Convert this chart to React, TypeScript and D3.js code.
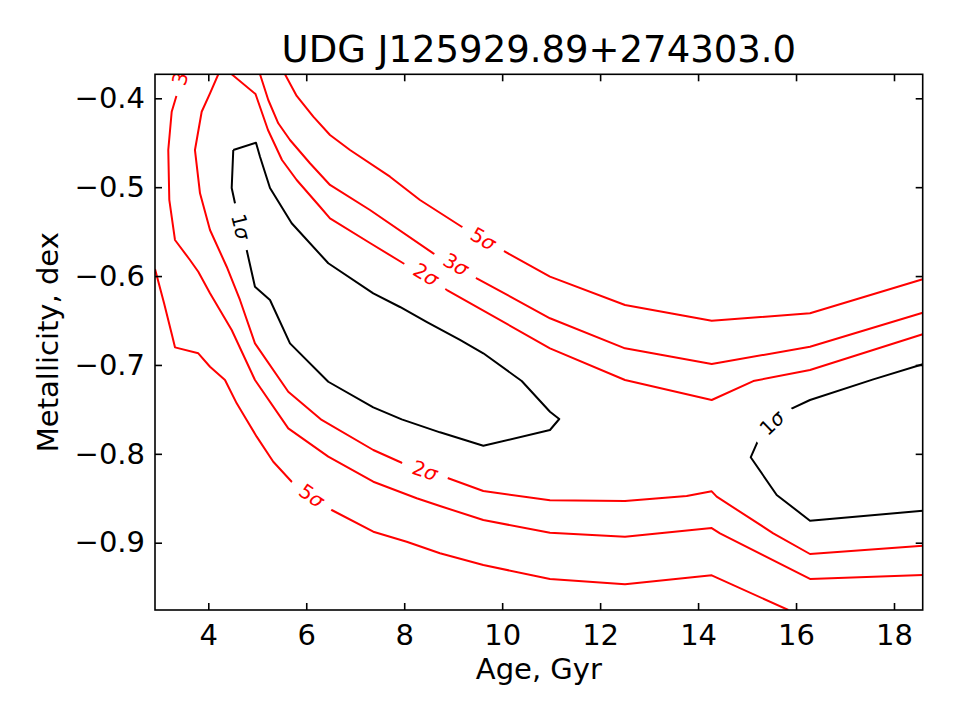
import React, { Component } from 'react';
import * as d3 from 'd3';

type Pt = [number, number];

// axis ranges (age in Gyr, metallicity in dex)
const ageDomain: Pt = [2.912, 18.586];
const metDomain: Pt = [-0.9757, -0.373];

const ageTicks = [4, 6, 8, 10, 12, 14, 16, 18];
const metTicks = [-0.9, -0.8, -0.7, -0.6, -0.5, -0.4];

// contour paths, [age, metallicity]
const sigma1Left: Pt[] = [
    [4.510, -0.4582], [4.974, -0.4500], [5.056, -0.4657], [5.260, -0.5009], [5.703, -0.5406],
    [6.450, -0.5856], [7.369, -0.6194], [7.914, -0.6348], [8.465, -0.6517], [9.139, -0.6719],
    [9.615, -0.6869], [10.399, -0.7181], [10.976, -0.7526], [11.166, -0.7608], [10.976, -0.7732],
    [9.615, -0.7909], [8.730, -0.7758], [7.949, -0.7612], [7.369, -0.7477], [6.450, -0.7189],
    [5.668, -0.6757], [5.260, -0.6269], [4.953, -0.6120], [4.784, -0.5707], [4.545, -0.5181],
    [4.478, -0.5009], [4.510, -0.4582]
];

const sigma1Right: Pt[] = [
    [18.586, -0.6993], [17.577, -0.7162], [16.285, -0.7394], [15.876, -0.7499], [15.229, -0.7845],
    [15.074, -0.8039], [15.605, -0.8463], [16.285, -0.8752], [18.586, -0.8640]
];

const sigma2Lower: Pt[] = [
    [4.204, -0.3730], [4.035, -0.3944], [3.865, -0.4151], [3.728, -0.4582], [3.831, -0.5069],
    [4.035, -0.5482], [4.376, -0.5895], [4.647, -0.6269], [4.953, -0.6757], [5.633, -0.7301],
    [6.315, -0.7619], [7.369, -0.7957], [7.949, -0.8100], [8.900, -0.8275], [9.615, -0.8418],
    [10.976, -0.8523], [12.508, -0.8531], [13.767, -0.8475], [14.278, -0.8422], [14.380, -0.8482],
    [15.535, -0.8894], [16.285, -0.9127], [18.586, -0.9034]
];

const sigma2Upper: Pt[] = [
    [4.478, -0.3730], [4.964, -0.3952], [5.219, -0.4357], [5.505, -0.4694], [5.805, -0.4919],
    [6.281, -0.5220], [6.485, -0.5350], [7.301, -0.5628], [7.981, -0.5856], [8.873, -0.6157],
    [10.976, -0.6813], [12.508, -0.7169], [14.278, -0.7394], [15.127, -0.7181], [16.285, -0.7057],
    [18.586, -0.6655]
];

const sigma3Lower: Pt[] = [
    [3.484, -0.3730], [3.355, -0.3963], [3.253, -0.4151], [3.183, -0.4582], [3.204, -0.5144],
    [3.320, -0.5594], [3.626, -0.5819], [3.796, -0.5951], [4.035, -0.6194], [4.478, -0.6607],
    [4.953, -0.7169], [5.633, -0.7713], [6.450, -0.8032], [7.369, -0.8314], [8.255, -0.8500],
    [8.730, -0.8587], [9.615, -0.8745], [10.976, -0.8888], [12.508, -0.8933], [14.278, -0.8835],
    [14.447, -0.8894], [16.285, -0.9408], [18.586, -0.9363]
];

const sigma3Upper: Pt[] = [
    [5.056, -0.3730], [5.225, -0.4019], [5.429, -0.4281], [5.668, -0.4469], [6.076, -0.4731],
    [6.485, -0.4975], [7.301, -0.5257], [8.594, -0.5744], [9.480, -0.6025], [10.976, -0.6475],
    [12.508, -0.6813], [14.278, -0.6989], [16.285, -0.6795], [18.586, -0.6412]
];

const sigma5Lower: Pt[] = [
    [2.912, -0.5921], [3.096, -0.6303], [3.259, -0.6663], [3.320, -0.6802], [3.796, -0.6869],
    [4.035, -0.7020], [4.341, -0.7169], [4.580, -0.7432], [4.784, -0.7619], [4.988, -0.7807],
    [5.327, -0.8089], [5.703, -0.8314], [6.519, -0.8632], [7.369, -0.8876], [8.051, -0.8989],
    [8.730, -0.9119], [9.615, -0.9251], [10.976, -0.9408], [12.508, -0.9468], [14.278, -0.9367],
    [15.842, -0.9757]
];

const sigma5Upper: Pt[] = [
    [5.566, -0.3730], [5.805, -0.3974], [6.144, -0.4207], [6.485, -0.4413], [6.893, -0.4582],
    [7.710, -0.4882], [8.322, -0.5144], [9.174, -0.5445], [10.058, -0.5726], [10.976, -0.6007],
    [12.508, -0.6326], [14.278, -0.6502], [16.285, -0.6419], [18.586, -0.6036]
];

const contours = [
    { level: 1, points: sigma1Left },
    { level: 1, points: sigma1Right },
    { level: 2, points: sigma2Lower },
    { level: 2, points: sigma2Upper },
    { level: 3, points: sigma3Lower },
    { level: 3, points: sigma3Upper },
    { level: 5, points: sigma5Lower },
    { level: 5, points: sigma5Upper }
];

// inline contour labels: level, where it sits, and its slant in degrees
const contourLabels = [
    { level: 1, age: 4.664, met: -0.5445, angle: 76 },
    { level: 1, age: 15.509, met: -0.7653, angle: -44 },
    { level: 2, age: 8.445, met: -0.5982, angle: 31 },
    { level: 3, age: 9.057, met: -0.5870, angle: 30 },
    { level: 5, age: 9.615, met: -0.5581, angle: 30 },
    { level: 2, age: 8.424, met: -0.8188, angle: 18.5 },
    { level: 5, age: 6.111, met: -0.8472, angle: 35 },
    { level: 3, age: 3.463, met: -0.3710, angle: -73 }
];

class App extends Component {
    svgRef = React.createRef<SVGSVGElement>();
    width = 960;
    height = 720;

    componentDidMount() {
        this.drawChart();
    }

    drawChart() {
        const svg = d3.select(this.svgRef.current);
        svg.selectAll('*').remove();

        const W = this.width, H = this.height;
        const left = 155, right = 922.7, top = 74.3, bottom = 610;
        const font = "'DejaVu Sans', sans-serif";

        const x = d3.scaleLinear().domain(ageDomain).range([left, right]);
        const y = d3.scaleLinear().domain(metDomain).range([bottom, top]);

        svg.append('rect').attr('width', W).attr('height', H).attr('fill', 'white');

        const defs = svg.append('defs');
        defs.append('clipPath').attr('id', 'plot-clip')
            .append('rect')
            .attr('x', left).attr('y', top)
            .attr('width', right - left).attr('height', bottom - top);

        // cut the contour lines where labels sit, like clabel(inline=True)
        const mask = defs.append('mask')
            .attr('id', 'label-mask')
            .attr('maskUnits', 'userSpaceOnUse')
            .attr('x', 0).attr('y', 0).attr('width', W).attr('height', H);
        mask.append('rect').attr('width', W).attr('height', H).attr('fill', 'white');
        mask.selectAll('.gap')
            .data(contourLabels)
            .enter().append('rect')
            .attr('class', 'gap')
            .attr('x', -24).attr('y', -11)
            .attr('width', 48).attr('height', 22)
            .attr('transform', d => `translate(${x(d.age)},${y(d.met)}) rotate(${d.angle})`)
            .attr('fill', 'black');

        const line = d3.line<Pt>().x(d => x(d[0])).y(d => y(d[1]));

        const plot = svg.append('g').attr('clip-path', 'url(#plot-clip)');

        plot.append('g').attr('mask', 'url(#label-mask)')
            .selectAll('path')
            .data(contours)
            .enter().append('path')
            .attr('d', d => line(d.points))
            .attr('fill', 'none')
            .attr('stroke', d => d.level === 1 ? 'black' : 'red')
            .attr('stroke-width', 2)
            .attr('stroke-linejoin', 'round');

        const labels = plot.selectAll('.clabel')
            .data(contourLabels)
            .enter().append('text')
            .attr('class', 'clabel')
            .attr('transform', d => `translate(${x(d.age)},${y(d.met)}) rotate(${d.angle})`)
            .attr('text-anchor', 'middle')
            .attr('dominant-baseline', 'central')
            .attr('font-family', font)
            .attr('font-size', 20)
            .attr('fill', d => d.level === 1 ? 'black' : 'red');
        labels.append('tspan').text(d => String(d.level));
        labels.append('tspan').attr('font-style', 'italic').text('σ');

        // ticks point inward on all four sides
        const tickLen = 7;
        const bottomAxis = svg.append('g')
            .attr('transform', `translate(0,${bottom})`)
            .call(d3.axisBottom(x).tickValues(ageTicks).tickSizeInner(-tickLen).tickSizeOuter(0).tickPadding(14));
        const leftAxis = svg.append('g')
            .attr('transform', `translate(${left},0)`)
            .call(d3.axisLeft(y).tickValues(metTicks).tickSizeInner(-tickLen).tickSizeOuter(0).tickPadding(10).tickFormat(d3.format('.1f')));
        svg.append('g')
            .attr('transform', `translate(0,${top})`)
            .call(d3.axisTop(x).tickValues(ageTicks).tickSizeInner(-tickLen).tickSizeOuter(0).tickFormat(() => ''));
        svg.append('g')
            .attr('transform', `translate(${right},0)`)
            .call(d3.axisRight(y).tickValues(metTicks).tickSizeInner(-tickLen).tickSizeOuter(0).tickFormat(() => ''));

        svg.selectAll('.domain').remove();
        svg.selectAll('.tick line').attr('stroke', 'black').attr('stroke-width', 1.6);
        [bottomAxis, leftAxis].forEach(a => a.selectAll('text')
            .attr('font-family', font)
            .attr('font-size', 29)
            .attr('fill', 'black'));

        svg.append('rect')
            .attr('x', left).attr('y', top)
            .attr('width', right - left).attr('height', bottom - top)
            .attr('fill', 'none')
            .attr('stroke', 'black')
            .attr('stroke-width', 1.6);

        svg.append('text')
            .attr('x', (left + right) / 2)
            .attr('y', 62)
            .attr('text-anchor', 'middle')
            .attr('font-family', font)
            .attr('font-size', 37)
            .text('UDG J125929.89+274303.0');

        svg.append('text')
            .attr('x', (left + right) / 2)
            .attr('y', 679)
            .attr('text-anchor', 'middle')
            .attr('font-family', font)
            .attr('font-size', 29)
            .text('Age, Gyr');

        svg.append('text')
            .attr('transform', `translate(58,${(top + bottom) / 2}) rotate(-90)`)
            .attr('text-anchor', 'middle')
            .attr('font-family', font)
            .attr('font-size', 29)
            .text('Metallicity, dex');
    }

    render() {
        return (
            <svg ref={this.svgRef} width={this.width} height={this.height}
                style={{ position: 'absolute', left: 0, top: 0, display: 'block' }}></svg>
        );
    }
}

export default App;
